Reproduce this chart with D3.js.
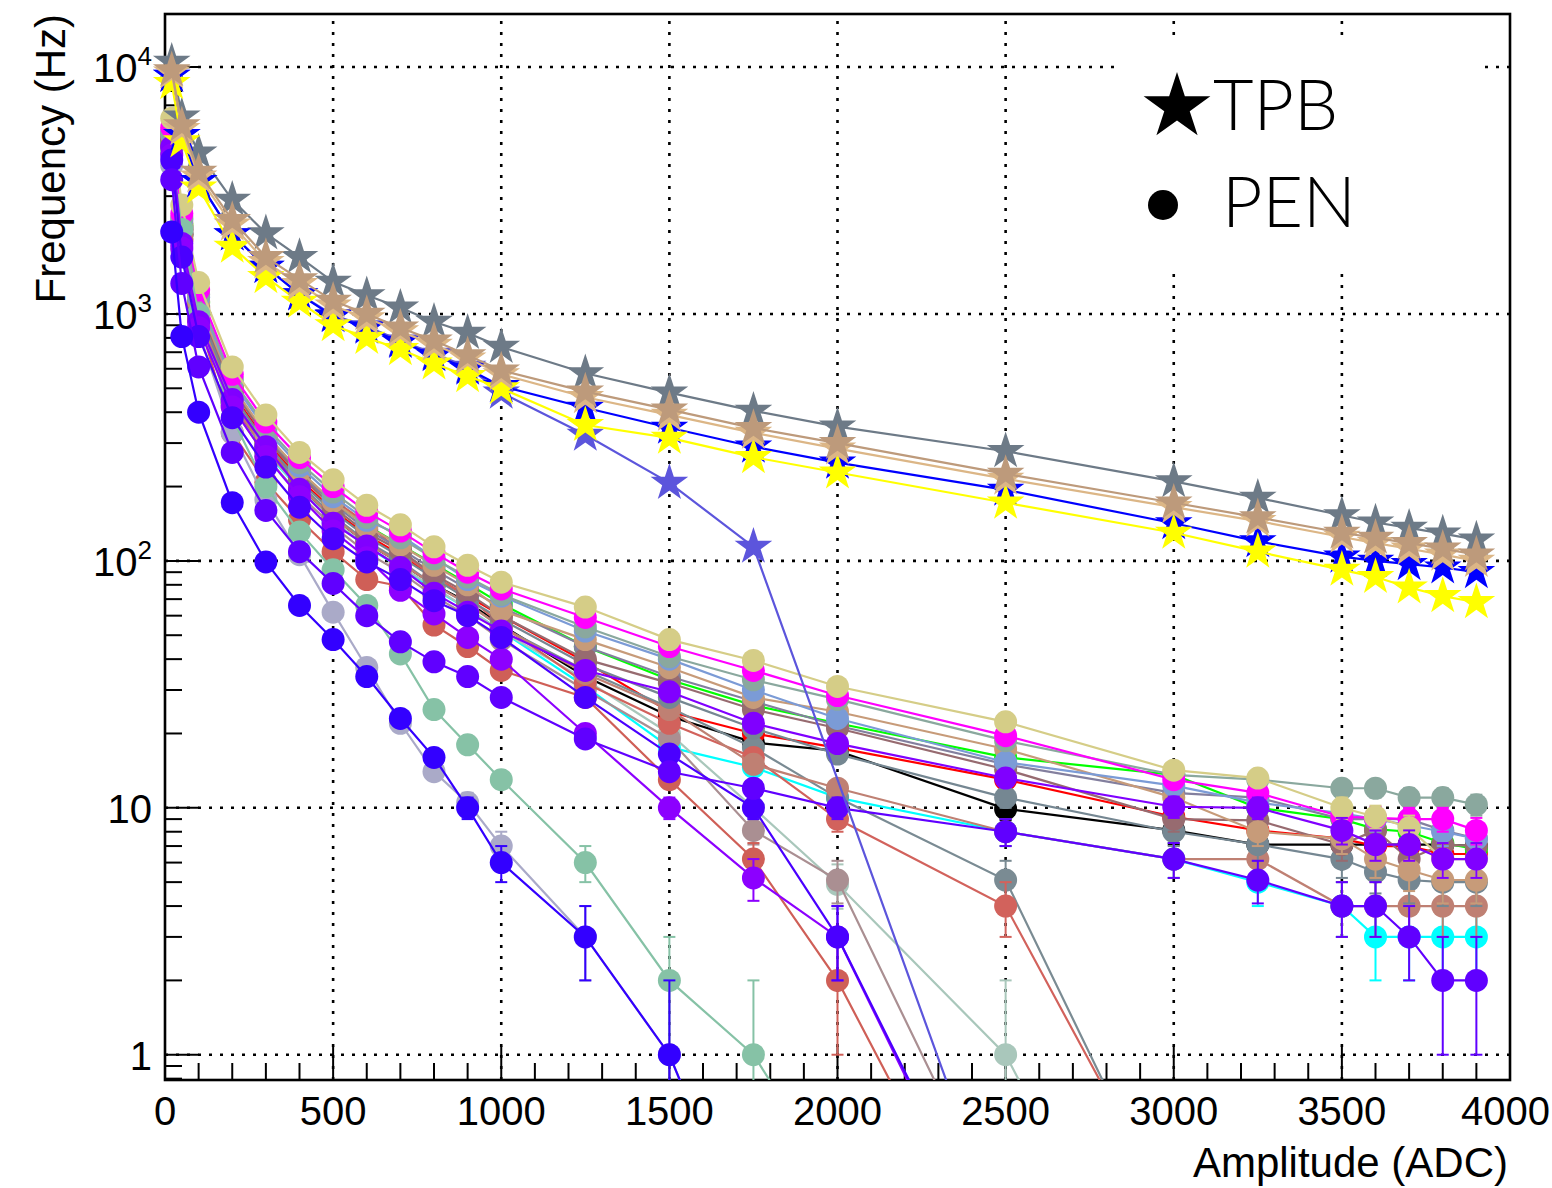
<!DOCTYPE html>
<html>
<head>
<meta charset="utf-8">
<script src="https://cdn.jsdelivr.net/npm/d3@7"></script>
<style>
  body { margin: 0; background: #fff; }
  svg { display: block; font-family: "Liberation Sans", Arial, Helvetica, sans-serif; }
</style>
</head>
<body>
<svg id="chart"></svg>
<script>

// ---- data (amplitude points in ADC, frequency in Hz) ----
const amplitudes = [20, 50, 100, 200, 300, 400, 500, 600, 700, 800, 900, 1000,
                    1250, 1500, 1750, 2000, 2500, 3000, 3250, 3500, 3600, 3700, 3800, 3900];

// PEN runs
const pen_cyan        = [4800, 2100, 990, 435, 275, 195, 145, 114, 94, 77, 64, 52, 31, 17.6, 14.6, 11, 8, 6.2, 5, 4, 3, 3, 3, 3];
const pen_black       = [4800, 2100, 1000, 440, 285, 200, 150, 118, 98, 80, 68, 55, 34, 23.5, 18.4, 17, 9.9, 8.1, 7.1, 7.1, 7.1, 7.1, 7.1, 7];
const pen_red         = [5000, 2200, 1060, 480, 305, 215, 160, 127, 106, 86, 72, 60, 39, 24.5, 20, 17.5, 13, 9.2, 8.1, 7.5, 7, 7, 6.5, 6.5];
const pen_green       = [5250, 2300, 1110, 505, 322, 230, 173, 139, 116, 97, 81, 67, 45, 33, 26, 22, 16, 13.6, 10, 9, 8.2, 8, 7.2, 6.8];
const pen_slategray2  = [4900, 2150, 1020, 455, 290, 205, 152, 120, 100, 80, 67, 54, 36, 25.5, 17.5, 11, 5.1, 0.2, null, null, null, null, null, null];
const pen_palegreen   = [4700, 2050, 980, 440, 280, 195, 145, 115, 95, 78, 64, 52, 33, 20, 10, 4.9, 1, 0.05, null, null, null, null, null, null];
const pen_mauve       = [4600, 2000, 950, 420, 265, 185, 138, 108, 90, 72, 60, 48, 30, 19, 8.1, 5.1, 0.2, null, null, null, null, null, null, null];
const pen_indianred2  = [4800, 2000, 950, 330, 208, 147, 109, 84, 79, 55, 45, 36, 28, 13, 6.2, 2, 0.1, null, null, null, null, null, null, null];
const pen_indianred   = [4900, 2100, 1000, 430, 280, 220, 177, 142, 109, 86, 72, 55, 32, 22, 16, 9, 4, 0.22, null, null, null, null, null, null];
const pen_rosy        = [4900, 2100, 1000, 440, 280, 200, 150, 118, 98, 80, 67, 54, 35, 25, 15, 12, 8, 6.2, 6.2, 4, 4, 4, 4, 4];
const pen_slategray   = [5000, 2200, 1050, 470, 300, 210, 158, 125, 104, 85, 70, 58, 38, 28, 21, 16.5, 11, 8, 7.1, 6.2, 5.5, 5.1, 5, 5];
const pen_slatepurple = [5100, 2250, 1080, 495, 318, 226, 170, 134, 112, 92, 77, 65, 45, 34, 27, 21.5, 15, 11.5, 11, 9, 9, 9, 8.1, 7.5];
const pen_rosybrown   = [5200, 2250, 1070, 505, 312, 222, 165, 130, 110, 88, 74, 60, 40, 32, 25, 21, 14.3, 9, 8.9, 7.1, 8.1, 6.2, 7.1, 7];
const pen_tan         = [5300, 2330, 1120, 512, 326, 232, 174, 138, 116, 96, 80, 63, 48, 37, 28, 24.5, 17.3, 11, 8, 7.5, 6.2, 5.6, 5.1, 5.1];
const pen_cornflower  = [5400, 2400, 1170, 530, 340, 242, 182, 146, 127, 103, 84, 72, 52, 40, 30, 23, 15.3, 12.3, 10.5, 9.5, 9, 8.5, 8, 7.5];
const pen_graygreen   = [5500, 2450, 1200, 545, 350, 250, 190, 150, 124, 102, 86, 73, 54, 41, 33, 27.5, 18.7, 13.6, 13, 12, 12, 11, 11, 10.3];
const pen_magenta     = [5700, 2550, 1250, 570, 365, 262, 200, 158, 132, 108, 90, 77, 59, 45, 36, 28.5, 19.6, 13, 11.5, 9.2, 9.1, 9, 9, 8.1];
const pen_khaki       = [6200, 2760, 1340, 610, 390, 275, 213, 168, 140, 114, 96, 82, 65, 48, 39.5, 31, 22.3, 14.2, 13.2, 10, 9.2, 8.3, 6.2, 6.2];
const pen_lilac       = [4000, 1800, 850, 330, 177, 106, 62, 37, 22, 14, 10.5, 7, 3, 1, 0.15, null, null, null, null, null, null, null, null, null];
const pen_mint        = [4500, 2200, 1000, 380, 200, 131, 92, 66, 42, 25, 18, 13, 6, 2, 1, 0.29, null, null, null, null, null, null, null, null];
const pen_purple      = [4750, 1930, 930, 450, 290, 195, 142, 115, 94, 74, 62, 52, 36, 29.5, 22, 18.2, 13.2, 10.1, 10, 8.1, 7.1, 7.1, 6.2, 6.2];
const pen_violet      = [4400, 1850, 880, 420, 265, 182, 132, 103, 76, 61, 49, 40, 20, 10, 5.2, 3, 0.12, null, null, null, null, null, null, null];
const pen_blueviolet  = [4200, 1700, 810, 380, 240, 165, 123, 99, 84, 69, 60, 49, 28, 16.5, 10, 3, 0.13, null, null, null, null, null, null, null];
const pen_indigo      = [3500, 1330, 610, 275, 160, 109, 81, 60, 47, 39, 34, 28, 19, 14, 12, 10, 8, 6.2, 5.1, 4, 4, 3, 2, 2];
const pen_blue        = [2150, 810, 400, 172, 99, 66, 48, 34, 23, 16, 10, 6, 3, 1, 0.15, null, null, null, null, null, null, null, null, null];
const PEN_ERR = 1;

// TPB runs
const tpb_slateblue = [9200, 5300, 3450, 2100, 1550, 1200, 990, 890, 780, 690, 610, 480, 324, 207, 114, null, 0.17, null, null, null, null, null, null, null];
const tpb_gray      = [10500, 6300, 4500, 2900, 2120, 1700, 1350, 1190, 1060, 930, 838, 735, 575, 480, 405, 350, 278, 210, 180, 153, 143, 136, 129, 122];
const tpb_blue      = [9200, 5300, 3450, 2100, 1550, 1200, 980, 880, 770, 680, 600, 510, 417, 346, 290, 250, 194, 142, 120, 104, 100, 97, 94, 90];
const tpb_yellow    = [8600, 5000, 3250, 1870, 1410, 1120, 900, 800, 720, 630, 560, 500, 355, 315, 263, 228, 172, 130, 109, 92, 86, 78, 72, 68];
const tpb_burly     = [9500, 5600, 3600, 2300, 1620, 1320, 1080, 960, 850, 750, 660, 570, 460, 390, 330, 285, 215, 165, 145, 125, 118, 112, 106, 100];
const tpb_tan       = [9700, 5800, 3760, 2400, 1700, 1380, 1130, 1000, 880, 780, 680, 590, 485, 410, 345, 300, 225, 172, 150, 130, 124, 118, 112, 106];

const xTicks = [0, 500, 1000, 1500, 2000, 2500, 3000, 3500, 4000];
const yTicks = [1, 10, 100, 1000, 10000];

// ---- styles ----
const penRuns = [
  [pen_cyan, '#00ffff'], [pen_black, '#000000'], [pen_red, '#ff0000'], [pen_green, '#00ff00'],
  [pen_slategray2, '#7a8b93'], [pen_palegreen, '#a9c7bb'], [pen_mauve, '#aa8f92'],
  [pen_indianred2, '#cf5f57'], [pen_indianred, '#d2625c'], [pen_rosy, '#bf8073'],
  [pen_slategray, '#758792'], [pen_slatepurple, '#837f9e'], [pen_rosybrown, '#976b70'],
  [pen_tan, '#c79b79'], [pen_cornflower, '#7b9bd6'], [pen_graygreen, '#8aa89e'],
  [pen_magenta, '#ff00ff'], [pen_khaki, '#d5cd87'], [pen_lilac, '#aaaac8'], [pen_mint, '#86c2a6'],
  [pen_purple, '#8000ff'], [pen_violet, '#8c00ff'], [pen_blueviolet, '#4a00ff'],
  [pen_indigo, '#6000ff'], [pen_blue, '#3300ff']
];
const tpbRuns = [
  [tpb_slateblue, '#5c55dc'], [tpb_gray, '#6d7a87'], [tpb_blue, '#0000ff'],
  [tpb_yellow, '#ffff00'], [tpb_burly, '#dcb686'], [tpb_tan, '#bd9a7b']
];

const W = 1552, H = 1188;
const frame = {left: 165, right: 1510, top: 14, bottom: 1080};

const svg = d3.select('#chart').attr('width', W).attr('height', H);

const x = d3.scaleLinear().domain([0, 4000]).range([frame.left, frame.right]);
const y = d3.scaleLog().domain([0.79, 16400]).range([frame.bottom, frame.top]);

svg.append('defs').append('clipPath').attr('id', 'plotclip')
  .append('rect')
  .attr('x', frame.left).attr('y', frame.top)
  .attr('width', frame.right - frame.left).attr('height', frame.bottom - frame.top);

// grid
const grid = svg.append('g')
  .attr('stroke', '#000').attr('stroke-width', 2.6).attr('stroke-dasharray', '3 8');
grid.selectAll('.gx').data(xTicks.filter(d => d > 0 && d < 4000)).enter().append('line')
  .attr('x1', d => x(d)).attr('x2', d => x(d))
  .attr('y1', frame.bottom).attr('y2', frame.top);
grid.selectAll('.gy').data(yTicks).enter().append('line')
  .attr('x1', frame.left).attr('x2', frame.right)
  .attr('y1', d => y(d)).attr('y2', d => y(d));

// axis ticks (inside the frame)
const ticks = svg.append('g').attr('stroke', '#000').attr('stroke-width', 2);
const xMinor = d3.range(0, 4001, 100);
ticks.selectAll('.tx').data(xMinor).enter().append('line')
  .attr('x1', d => x(d)).attr('x2', d => x(d))
  .attr('y1', frame.bottom)
  .attr('y2', d => frame.bottom - (d % 500 === 0 ? 34 : 17));
const yMinor = [];
for (let e = -1; e <= 4; e++)
  for (let m = 1; m <= 9; m++) {
    const v = m * Math.pow(10, e);
    if (v >= 0.79 && v <= 16400) yMinor.push({v: v, major: m === 1});
  }
ticks.selectAll('.ty').data(yMinor).enter().append('line')
  .attr('y1', d => y(d.v)).attr('y2', d => y(d.v))
  .attr('x1', frame.left)
  .attr('x2', d => frame.left + (d.major ? 34 : 17));

// frame
svg.append('rect')
  .attr('x', frame.left).attr('y', frame.top)
  .attr('width', frame.right - frame.left).attr('height', frame.bottom - frame.top)
  .attr('fill', 'none').attr('stroke', '#000').attr('stroke-width', 2.6);

// tick labels
svg.append('g').selectAll('text').data(xTicks).enter().append('text')
  .attr('x', d => d === 4000 ? 1550 : x(d)).attr('y', 1125)
  .attr('text-anchor', d => d === 4000 ? 'end' : 'middle').attr('font-size', 40)
  .text(d => d);

const yl = svg.append('g').selectAll('text').data(yTicks).enter().append('text')
  .attr('x', 152).attr('y', d => y(d) + 15)
  .attr('text-anchor', 'end').attr('font-size', 40);
yl.each(function(d) {
  const t = d3.select(this);
  if (d >= 100) {
    t.append('tspan').text('10');
    t.append('tspan').attr('dy', -17).attr('font-size', 26).text(Math.round(Math.log10(d)));
  } else {
    t.text(d);
  }
});

// axis titles
svg.append('text')
  .attr('transform', 'translate(65,14) rotate(-90)')
  .attr('text-anchor', 'end').attr('font-size', 42)
  .text('Frequency (Hz)');
svg.append('text')
  .attr('x', 1508).attr('y', 1177)
  .attr('text-anchor', 'end').attr('font-size', 42)
  .text('Amplitude (ADC)');

// ---- series ----
const line = d3.line().x(d => x(d.a)).y(d => y(d.v));
const inside = d => d.a >= 0 && d.a <= 4000 && d.v >= 0.79 && d.v <= 16400;
const toPoints = vals => amplitudes.map((a, i) => ({a: a, v: vals[i]})).filter(d => d.v != null);

const data = svg.append('g');

penRuns.forEach(([vals, color]) => {
  const pts = toPoints(vals);
  const g = data.append('g');
  g.append('path').datum(pts)
    .attr('d', line).attr('fill', 'none')
    .attr('stroke', color).attr('stroke-width', 2.2)
    .attr('clip-path', 'url(#plotclip)');
  const shown = pts.filter(inside);
  const eb = g.append('g').attr('stroke', color).attr('stroke-width', 2).attr('clip-path', 'url(#plotclip)');
  shown.forEach(d => {
    const hi = d.v + PEN_ERR, lo = d.v - PEN_ERR > 0 ? d.v - PEN_ERR : 1e-3;
    eb.append('line').attr('x1', x(d.a)).attr('x2', x(d.a)).attr('y1', y(hi)).attr('y2', y(lo));
    eb.append('line').attr('x1', x(d.a) - 6).attr('x2', x(d.a) + 6).attr('y1', y(hi)).attr('y2', y(hi));
    if (lo > 1e-3)
      eb.append('line').attr('x1', x(d.a) - 6).attr('x2', x(d.a) + 6).attr('y1', y(lo)).attr('y2', y(lo));
  });
  g.selectAll('circle').data(shown).enter().append('circle')
    .attr('cx', d => x(d.a)).attr('cy', d => y(d.v))
    .attr('r', 11.5).attr('fill', color);
});

const star = d3.symbol().type(d3.symbolStar).size(440);
tpbRuns.forEach(([vals, color]) => {
  const pts = toPoints(vals);
  const g = data.append('g');
  g.append('path').datum(pts)
    .attr('d', line).attr('fill', 'none')
    .attr('stroke', color).attr('stroke-width', 2.2)
    .attr('clip-path', 'url(#plotclip)');
  g.selectAll('.star').data(pts.filter(inside)).enter().append('path')
    .attr('d', star)
    .attr('transform', d => `translate(${x(d.a)},${y(d.v)})`)
    .attr('fill', color);
});

// ---- legend ----
const legend = svg.append('g');
legend.append('rect')
  .attr('x', 1120).attr('y', 35).attr('width', 361).attr('height', 233)
  .attr('fill', '#fff');
legend.append('path')
  .attr('d', d3.symbol().type(d3.symbolStar).size(1380)())
  .attr('transform', 'translate(1177,107)')
  .attr('fill', '#000');
legend.append('circle').attr('cx', 1163).attr('cy', 205).attr('r', 15).attr('fill', '#000');
legend.append('text')
  .attr('x', 1213).attr('y', 130)
  .attr('font-family', 'Lato, "Open Sans", sans-serif').attr('font-weight', 300)
  .attr('font-size', 70).text('TPB');
legend.append('text')
  .attr('x', 1222).attr('y', 227)
  .attr('font-family', 'Lato, "Open Sans", sans-serif').attr('font-weight', 300)
  .attr('font-size', 70).text('PEN');
</script>
</body>
</html>
